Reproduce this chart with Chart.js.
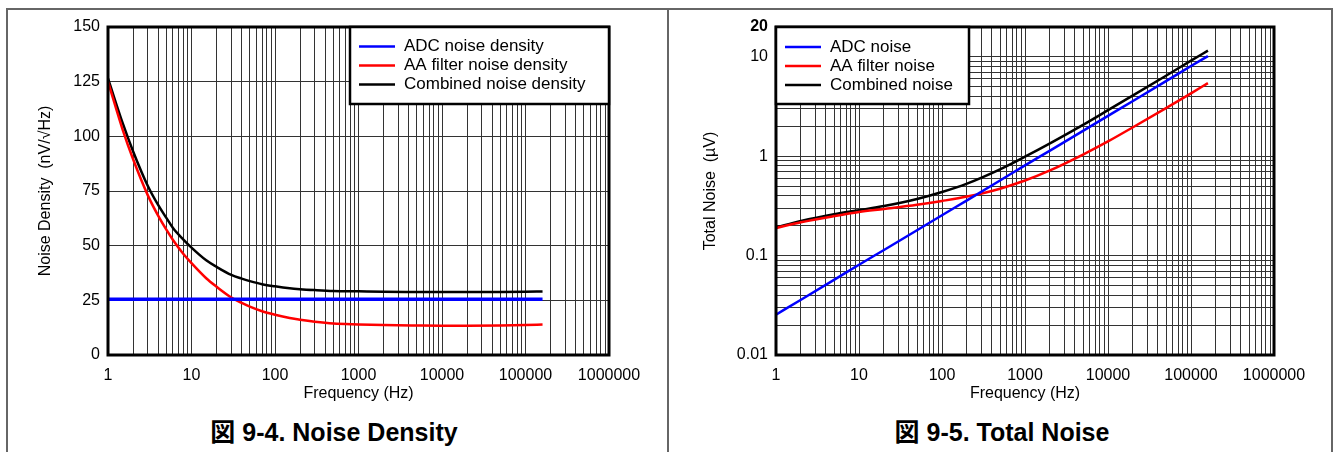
<!DOCTYPE html>
<html lang="ja">
<head>
<meta charset="UTF-8">
<title>Noise Density / Total Noise</title>
<style>
  body { margin: 0; background: #fff; }
  .page { position: relative; width: 1338px; height: 452px; overflow: hidden; }
  .line { position: absolute; background: #666; }
  .cell { position: absolute; top: 0; width: 668px; height: 452px; }
  .cell canvas { position: absolute; left: 0; top: 0; }
  .caption { position: absolute; left: 0; width: 668px; top: 412px; text-align: center;
             font: bold 25px "Liberation Sans", "Noto Sans CJK JP", sans-serif; color: #000; }
</style>
</head>
<body>
<div class="page">
  <div class="line" style="left:6px; top:8px; width:1327px; height:2px;"></div>
  <div class="line" style="left:6px; top:8px; width:2px; height:444px;"></div>
  <div class="line" style="left:667px; top:8px; width:2px; height:444px;"></div>
  <div class="line" style="left:1331px; top:8px; width:2px; height:444px;"></div>

  <div class="cell" style="left:0;">
    <canvas id="densityChart" width="668" height="410"></canvas>
    <div class="caption">図 9-4. Noise Density</div>
  </div>
  <div class="cell" style="left:668px;">
    <canvas id="totalChart" width="668" height="410"></canvas>
    <div class="caption">図 9-5. Total Noise</div>
  </div>
</div>

<script src="https://cdn.jsdelivr.net/npm/chart.js"></script>
<script>
    // ---- data ----
    const seriesNames1 = ['ADC noise density', 'AA filter noise density', 'Combined noise density'];
    const seriesNames2 = ['ADC noise', 'AA filter noise', 'Combined noise'];

    // fig 9-4: noise density (nV/rtHz) vs frequency (Hz)
    const adcFreq = [1, 160000];
    const adcDensity = [25.5, 25.5];
    const freq1 = [1, 1.5, 2, 3, 4, 5, 6, 8, 10, 15, 20, 30, 40, 50, 70, 100, 150, 200, 300, 500,
                   1000, 2000, 5000, 10000, 20000, 50000, 100000, 160000];
    const aaDensity = [125, 103, 89.5, 73, 63.6, 57.3, 52.6, 46.2, 42, 35.1, 31.2, 26.3, 23.8, 22.1,
                       20.0, 18.4, 16.9, 16.1, 15.2, 14.4, 14.0, 13.7, 13.5, 13.4, 13.4, 13.5, 13.7, 13.9];
    const combinedDensity = [126.5, 106, 93.1, 77.3, 68.5, 62.7, 58.1, 52.8, 49.1, 43.3, 40.3, 36.6, 34.9,
                             33.8, 32.4, 31.4, 30.5, 30.1, 29.7, 29.3, 29.1, 28.9, 28.85, 28.8, 28.8,
                             28.85, 28.95, 29.05];

    // fig 9-5: total noise (uV) vs frequency (Hz)
    const freq2 = [1, 2, 5, 10, 20, 50, 100, 200, 500, 1000, 2000, 5000, 10000, 20000, 50000, 100000, 160000];
    const adcNoise = [0.0255, 0.036, 0.057, 0.081, 0.114, 0.18, 0.255, 0.36, 0.57, 0.81, 1.14, 1.8,
                      2.55, 3.6, 5.7, 8.1, 10.2];
    const aaNoise = [0.19, 0.217, 0.25, 0.275, 0.295, 0.325, 0.355, 0.393, 0.472, 0.57, 0.72, 1.04,
                     1.41, 1.96, 3.05, 4.3, 5.45];
    const combinedNoise = [0.192, 0.223, 0.261, 0.287, 0.316, 0.372, 0.437, 0.531, 0.739, 0.99, 1.348,
                           2.07, 2.91, 4.10, 6.47, 9.17, 11.57];

    // tick labels
    const xTickLabels = ['1', '10', '100', '1000', '10000', '100000', '1000000'];
    const yTickLabels1 = ['0', '25', '50', '75', '100', '125', '150'];
    const yTickLabels2 = ['0.01', '0.1', '1', '10', '20'];

    const colors = ['#0000ff', '#ff0000', '#000000'];
    const FONT = '"Liberation Sans", Arial, sans-serif';

    function pts(xs, ys) {
        return xs.map((x, i) => ({ x: x, y: ys[i] }));
    }

    // all 1..9 x 10^k grid values between lo and hi
    function logGrid(lo, hi) {
        const out = [];
        for (let k = Math.floor(Math.log10(lo)); k <= Math.ceil(Math.log10(hi)); k++) {
            for (let m = 1; m <= 9; m++) {
                const v = Number((m * Math.pow(10, k)).toPrecision(6));
                if (v >= lo * 0.9999 && v <= hi * 1.0001) out.push(v);
            }
        }
        return out;
    }

    function labelFor(value, labels) {
        const hit = labels.find(l => Math.abs(Number(l) - value) <= Math.abs(Number(l)) * 1e-6);
        return hit === undefined ? '' : hit;
    }

    // thick plot border + boxed legend inside the plot
    const boxLegend = {
        id: 'boxLegend',
        afterDatasetsDraw(chart, args, opts) {
            const { ctx, chartArea: a } = chart;
            ctx.save();
            ctx.strokeStyle = '#000';
            ctx.lineWidth = 3;
            ctx.strokeRect(a.left, a.top, a.right - a.left, a.bottom - a.top);

            const bx = opts.side === 'right' ? a.right - opts.width : a.left;
            const by = a.top;
            ctx.fillStyle = '#fff';
            ctx.fillRect(bx, by, opts.width, opts.height);
            ctx.lineWidth = 2.5;
            ctx.strokeRect(bx, by, opts.width, opts.height);

            ctx.font = '17px ' + FONT;
            ctx.textBaseline = 'middle';
            chart.data.datasets.forEach((ds, i) => {
                const y = by + opts.firstRow + i * opts.rowGap;
                ctx.strokeStyle = ds.borderColor;
                ctx.lineWidth = 2.5;
                ctx.beginPath();
                ctx.moveTo(bx + 9, y);
                ctx.lineTo(bx + 45, y);
                ctx.stroke();
                ctx.fillStyle = '#000';
                ctx.fillText(ds.label, bx + 54, y);
            });
            ctx.restore();
        }
    };

    const gridStyle = { color: '#333', lineWidth: 1, drawTicks: false };

    function xAxis() {
        return {
            type: 'logarithmic',
            min: 1,
            max: 1000000,
            grid: gridStyle,
            border: { display: false },
            afterBuildTicks: s => { s.ticks = logGrid(1, 1000000).map(v => ({ value: v })); },
            afterFit: s => { s.height = 50; },
            ticks: {
                autoSkip: false, maxRotation: 0, minRotation: 0, padding: 11,
                color: '#000', font: { family: FONT, size: 16 },
                callback: v => labelFor(v, xTickLabels)
            },
            title: {
                display: true, text: 'Frequency (Hz)', color: '#000',
                font: { family: FONT, size: 16 }, padding: { top: 0, bottom: 2 }
            }
        };
    }

    const lineDs = (label, data, color, width) => ({
        label: label, data: data, borderColor: color, backgroundColor: color,
        borderWidth: width, pointRadius: 0, cubicInterpolationMode: 'monotone'
    });

    new Chart(document.getElementById('densityChart'), {
        type: 'line',
        data: {
            datasets: [
                lineDs(seriesNames1[0], pts(adcFreq, adcDensity), colors[0], 3.5),
                lineDs(seriesNames1[1], pts(freq1, aaDensity), colors[1], 2.5),
                lineDs(seriesNames1[2], pts(freq1, combinedDensity), colors[2], 2.5)
            ]
        },
        options: {
            responsive: false,
            animation: false,
            layout: { padding: { top: 27, right: 59, bottom: 5, left: 0 } },
            plugins: {
                legend: { display: false },
                tooltip: { enabled: false },
                boxLegend: { side: 'right', width: 259, height: 77, firstRow: 19.5, rowGap: 19 }
            },
            scales: {
                x: xAxis(),
                y: {
                    type: 'linear',
                    min: 0,
                    max: 150,
                    grid: gridStyle,
                    border: { display: false },
                    afterFit: s => { s.width = 108; },
                    ticks: {
                        stepSize: 25, padding: 8, color: '#000', font: { family: FONT, size: 16 },
                        callback: v => labelFor(v, yTickLabels1)
                    },
                    title: {
                        display: true, text: 'Noise Density  (nV/\u221AHz)', color: '#000',
                        font: { family: FONT, size: 16 }, padding: { top: 36, bottom: 0 }
                    }
                }
            }
        },
        plugins: [boxLegend]
    });

    new Chart(document.getElementById('totalChart'), {
        type: 'line',
        data: {
            datasets: [
                lineDs(seriesNames2[0], pts(freq2, adcNoise), colors[0], 2.5),
                lineDs(seriesNames2[1], pts(freq2, aaNoise), colors[1], 2.5),
                lineDs(seriesNames2[2], pts(freq2, combinedNoise), colors[2], 2.5)
            ]
        },
        options: {
            responsive: false,
            animation: false,
            layout: { padding: { top: 27, right: 62, bottom: 5, left: 0 } },
            plugins: {
                legend: { display: false },
                tooltip: { enabled: false },
                boxLegend: { side: 'left', width: 193, height: 77, firstRow: 20, rowGap: 19 }
            },
            scales: {
                x: xAxis(),
                y: {
                    type: 'logarithmic',
                    min: 0.01,
                    max: 20,
                    grid: gridStyle,
                    border: { display: false },
                    afterBuildTicks: s => { s.ticks = logGrid(0.01, 20).map(v => ({ value: v })); },
                    afterFit: s => { s.width = 108; },
                    ticks: {
                        autoSkip: false, padding: 8, color: '#000',
                        font: c => ({ family: FONT, size: 16, weight: c.tick && c.tick.value === 20 ? 'bold' : 'normal' }),
                        callback: v => labelFor(v, yTickLabels2)
                    },
                    title: {
                        display: true, text: 'Total Noise  (\u00B5V)', color: '#000',
                        font: { family: FONT, size: 16 }, padding: { top: 33, bottom: 0 }
                    }
                }
            }
        },
        plugins: [boxLegend]
    });
</script>
</body>
</html>
